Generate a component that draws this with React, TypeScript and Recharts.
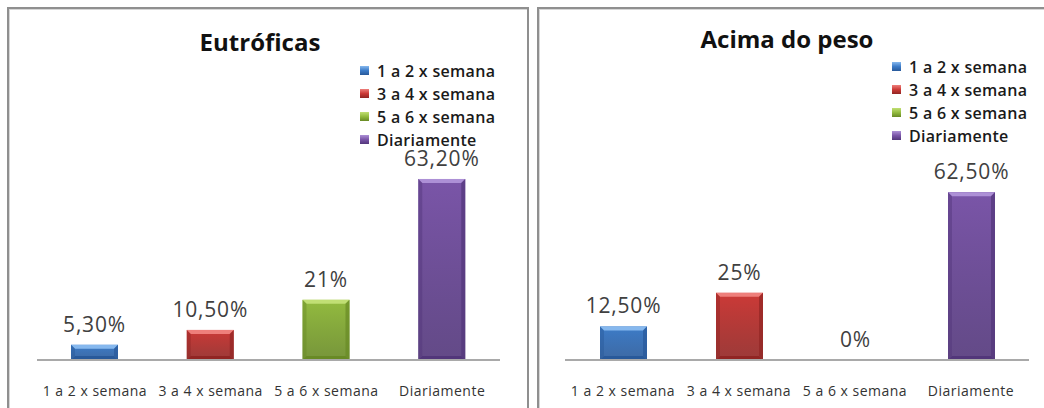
import { Bar, BarChart, Cell, LabelList, Legend, XAxis, YAxis } from "recharts";

const categories = ["1 a 2 x semana", "3 a 4 x semana", "5 a 6 x semana", "Diariamente"];

const eutroficasValues = [5.3, 10.5, 21, 63.2];
const eutroficasLabels = ["5,30%", "10,50%", "21%", "63,20%"];

const acimaValues = [12.5, 25, 0, 62.5];
const acimaLabels = ["12,50%", "25%", "0%", "62,50%"];

const palette = [
  { base: "#3d7cc8", light: "#86b8ee", dark: "#28599a" },
  { base: "#cc3a37", light: "#ee7f7b", dark: "#912523" },
  { base: "#93bb3f", light: "#c1df74", dark: "#688a25" },
  { base: "#7a55a8", light: "#ad90d6", dark: "#52367a" },
];

const font = "'Open Sans', sans-serif";

type Panel = {
  id: string;
  title: string;
  values: number[];
  labels: string[];
  left: number;
  width: number;
  margin: { top: number; right: number; left: number; bottom: number };
  titleX: number;
  titleY: number;
  legendLeft: number;
  legendTop: number;
};

function BevelBar(props: any) {
  const { x, y, width, height, index, id } = props;
  if (!height || height <= 0) return null;
  const c = palette[index % palette.length];
  const b = Math.min(4, height / 3);
  return (
    <g>
      <rect x={x} y={y} width={width} height={height} fill={`url(#${id}-g${index})`} />
      <polygon
        points={`${x},${y} ${x + width},${y} ${x + width - b},${y + b} ${x + b},${y + b}`}
        fill={c.light}
      />
      <polygon
        points={`${x},${y} ${x + b},${y + b} ${x + b},${y + height - b} ${x},${y + height}`}
        fill={c.dark}
        opacity={0.45}
      />
      <polygon
        points={`${x + width},${y} ${x + width - b},${y + b} ${x + width - b},${y + height - b} ${x + width},${y + height}`}
        fill={c.dark}
        opacity={0.7}
      />
      <polygon
        points={`${x},${y + height} ${x + b},${y + height - b} ${x + width - b},${y + height - b} ${x + width},${y + height}`}
        fill={c.dark}
      />
    </g>
  );
}

function LegendBox() {
  return (
    <div style={{ fontFamily: font, fontWeight: 600, fontSize: 16, letterSpacing: 0.3, color: "#1a1a1a" }}>
      {categories.map((name, i) => (
        <div
          key={name}
          style={{ display: "flex", alignItems: "center", height: 23, lineHeight: "18px", whiteSpace: "nowrap" }}
        >
          <span
            style={{
              width: 9,
              height: 9,
              marginRight: 8,
              background: `linear-gradient(${palette[i].light}, ${palette[i].base} 50%, ${palette[i].dark})`,
            }}
          />
          {name}
        </div>
      ))}
    </div>
  );
}

function ChartPanel({ p }: { p: Panel }) {
  const data = categories.map((name, i) => ({ name, value: p.values[i], label: p.labels[i] }));
  return (
    <>
      <div
        style={{
          position: "absolute",
          left: p.left - 1,
          top: 7,
          width: 522,
          height: 420,
          boxSizing: "border-box",
          border: "2px solid #8f8f8f",
          boxShadow: "inset 1px 1px 0 #d6d6d6",
        }}
      />
      <div
        style={{
          position: "absolute",
          left: p.titleX - 150,
          top: p.titleY - 16,
          width: 300,
          lineHeight: "30px",
          textAlign: "center",
          fontFamily: font,
          fontWeight: 700,
          fontSize: 24,
          color: "#111",
        }}
      >
        {p.title}
      </div>
      <div style={{ position: "absolute", left: p.left, top: 8 }}>
        <BarChart width={p.width} height={400} data={data} margin={p.margin}>
          <defs>
            {palette.map((c, i) => (
              <linearGradient key={i} id={`${p.id}-g${i}`} x1="0" y1="0" x2="0" y2="1">
                <stop offset="0%" stopColor={c.base} />
                <stop offset="100%" stopColor={c.dark} stopOpacity={0.9} />
              </linearGradient>
            ))}
          </defs>
          <XAxis
            dataKey="name"
            height={30}
            tickLine={false}
            tickSize={0}
            tickMargin={26}
            axisLine={{ stroke: "#a9a9a9", strokeWidth: 2 }}
            tick={{ fill: "#333", fontSize: 14, fontFamily: font, letterSpacing: 0.5 }}
            interval={0}
          />
          <YAxis hide domain={[0, 70]} />
          <Legend
            layout="vertical"
            align="center"
            verticalAlign="middle"
            content={() => <LegendBox />}
            wrapperStyle={{ left: p.legendLeft, top: p.legendTop, width: 180, height: 92 }}
          />
          <Bar
            dataKey="value"
            barSize={47}
            isAnimationActive={false}
            shape={(props: any) => <BevelBar {...props} id={p.id} />}
          >
            {data.map((d, i) => (
              <Cell key={d.name} fill={palette[i].base} />
            ))}
            <LabelList
              dataKey="label"
              position="top"
              offset={13}
              style={{ fill: "#404040", fontSize: 21, fontFamily: font, letterSpacing: 0.8 }}
            />
          </Bar>
        </BarChart>
      </div>
    </>
  );
}

const panels: Panel[] = [
  {
    id: "eut",
    title: "Eutróficas",
    values: eutroficasValues,
    labels: eutroficasLabels,
    left: 8,
    width: 519,
    margin: { top: 151.5, right: 27, left: 29, bottom: 18 },
    titleX: 260,
    titleY: 43,
    legendLeft: 352,
    legendTop: 51,
  },
  {
    id: "aci",
    title: "Acima do peso",
    values: acimaValues,
    labels: acimaLabels,
    left: 538,
    width: 506,
    margin: { top: 164, right: 15, left: 27, bottom: 18 },
    titleX: 787,
    titleY: 40,
    legendLeft: 354,
    legendTop: 47,
  },
];

export default function App() {
  return (
    <div style={{ position: "absolute", left: 0, top: 0, width: 1044, height: 408, overflow: "hidden", background: "#fff" }}>
      {panels.map((p) => (
        <ChartPanel key={p.id} p={p} />
      ))}
    </div>
  );
}
